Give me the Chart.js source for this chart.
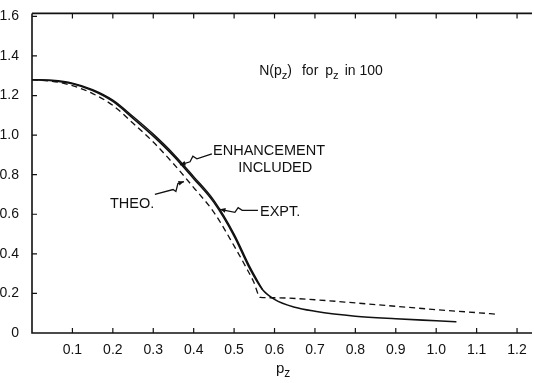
<!DOCTYPE html>
<html>
<head>
<meta charset="utf-8">
<script src="https://cdn.jsdelivr.net/npm/chart.js@4"></script>
<style>
  html, body { margin: 0; padding: 0; background: #fff; }
  #wrap { width: 534px; height: 383px; position: relative; }
</style>
</head>
<body>
<div id="wrap"><canvas id="chart"></canvas></div>
<script>
// N(pz) for pz in 100 -- experiment vs. theory

// experimental curve (solid)
const exptX = [0, 0.05, 0.1, 0.15, 0.2, 0.25, 0.3, 0.35, 0.4, 0.45, 0.5, 0.54, 0.57, 0.6, 0.65, 0.7, 0.8, 0.9, 1.0, 1.05];
const exptY = [1.28, 1.275, 1.26, 1.225, 1.17, 1.085, 0.995, 0.895, 0.78, 0.66, 0.49, 0.32, 0.22, 0.17, 0.13, 0.11, 0.085, 0.072, 0.062, 0.057];

// theory with enhancement included (solid, runs alongside the experiment)
const enhX = [0, 0.05, 0.1, 0.15, 0.2, 0.25, 0.3, 0.35, 0.4, 0.45, 0.5, 0.54, 0.57];
const enhY = [1.28, 1.277, 1.263, 1.23, 1.177, 1.094, 1.005, 0.905, 0.79, 0.67, 0.5, 0.33, 0.22];

// plain theory (dashed)
const theoX = [0, 0.05, 0.1, 0.15, 0.2, 0.25, 0.3, 0.35, 0.4, 0.45, 0.5, 0.53, 0.548, 0.565, 0.6, 0.7, 0.8, 0.9, 1.0, 1.1, 1.15];
const theoY = [1.28, 1.272, 1.25, 1.21, 1.15, 1.06, 0.965, 0.855, 0.735, 0.61, 0.44, 0.33, 0.26, 0.18, 0.178, 0.168, 0.152, 0.135, 0.118, 0.103, 0.095];

const xTickValues = [0.1, 0.2, 0.3, 0.4, 0.5, 0.6, 0.7, 0.8, 0.9, 1.0, 1.1, 1.2];
const xTickLabels = ['0.1', '0.2', '0.3', '0.4', '0.5', '0.6', '0.7', '0.8', '0.9', '1.0', '1.1', '1.2'];
const yTickValues = [0, 0.2, 0.4, 0.6, 0.8, 1.0, 1.2, 1.4, 1.6];
const yTickLabels = ['0', '0.2', '0.4', '0.6', '0.8', '1.0', '1.2', '1.4', '1.6'];

const INK = '#111';
const FONT = '"Liberation Sans", Arial, sans-serif';

function pts(xs, ys) {
  return xs.map((x, i) => ({ x: x, y: ys[i] }));
}

// frame, inward ticks, labels with arrows
const decorPlugin = {
  id: 'decor',
  afterDraw(chart) {
    const ctx = chart.ctx;
    const a = chart.chartArea;
    const xs = chart.scales.x;
    const ys = chart.scales.y;
    const P = (vx, vy) => [xs.getPixelForValue(vx), ys.getPixelForValue(vy)];

    ctx.save();
    ctx.strokeStyle = INK;
    ctx.fillStyle = INK;
    ctx.lineWidth = 1.6;
    ctx.beginPath();
    ctx.moveTo(a.left, a.top);
    ctx.lineTo(a.left, a.bottom);
    ctx.lineTo(a.right, a.bottom);
    ctx.moveTo(a.left, a.top);
    ctx.lineTo(a.right, a.top);
    ctx.stroke();

    ctx.lineWidth = 1.2;
    ctx.beginPath();
    xTickValues.forEach(v => {
      const px = xs.getPixelForValue(v);
      ctx.moveTo(px, a.bottom);
      ctx.lineTo(px, a.bottom - 5);
      ctx.moveTo(px, a.top);
      ctx.lineTo(px, a.top + 5);
    });
    yTickValues.forEach(v => {
      if (v === 0) return;
      const py = ys.getPixelForValue(v);
      ctx.moveTo(a.left, py);
      ctx.lineTo(a.left + 5, py);
    });
    ctx.stroke();

    // text with a subscript z
    function subText(parts, x, y, size) {
      let cx = x;
      parts.forEach(p => {
        const s = p.sub ? size * 0.8 : size;
        ctx.font = s + 'px ' + FONT;
        ctx.fillText(p.t, cx, p.sub ? y + 4 : y);
        cx += ctx.measureText(p.t).width + (p.gap || 0);
      });
    }
    ctx.textBaseline = 'alphabetic';
    ctx.textAlign = 'left';

    let [tx, ty] = P(0.562, 1.305);
    subText([{ t: 'N(p' }, { t: 'z', sub: true }, { t: ')', gap: 10 }, { t: 'for', gap: 7 },
             { t: 'p' }, { t: 'z', sub: true, gap: 6 }, { t: 'in 100' }], tx, ty, 14);

    // x axis title
    ctx.font = '15px ' + FONT;
    const mid = (a.left + a.right) / 2;
    subText([{ t: 'p' }, { t: 'z', sub: true }], mid - 6, 373, 15);

    ctx.font = '14.5px ' + FONT;
    [['ENHANCEMENT', 0.448, 0.90], ['INCLUDED', 0.510, 0.815],
     ['EXPT.', 0.564, 0.59], ['THEO.', 0.193, 0.63]].forEach(l => {
      const [lx, ly] = P(l[1], l[2]);
      ctx.fillText(l[0], lx, ly);
    });

    // zig-zag leader arrows, tip last
    const arrows = [
      [[0.445, 0.905], [0.408, 0.88], [0.398, 0.893], [0.391, 0.865], [0.366, 0.85]],
      [[0.559, 0.62], [0.520, 0.62], [0.510, 0.633], [0.502, 0.61], [0.465, 0.625]],
      [[0.304, 0.70], [0.349, 0.725], [0.356, 0.715], [0.361, 0.755], [0.376, 0.765]]
    ];
    ctx.lineWidth = 1.3;
    arrows.forEach(ar => {
      const p = ar.map(q => P(q[0], q[1]));
      ctx.beginPath();
      ctx.moveTo(p[0][0], p[0][1]);
      p.slice(1).forEach(q => ctx.lineTo(q[0], q[1]));
      ctx.stroke();
      const tip = p[p.length - 1], prev = p[p.length - 2];
      const ang = Math.atan2(tip[1] - prev[1], tip[0] - prev[0]);
      ctx.beginPath();
      ctx.moveTo(tip[0], tip[1]);
      ctx.lineTo(tip[0] - 6 * Math.cos(ang - 0.4), tip[1] - 6 * Math.sin(ang - 0.4));
      ctx.lineTo(tip[0] - 6 * Math.cos(ang + 0.4), tip[1] - 6 * Math.sin(ang + 0.4));
      ctx.closePath();
      ctx.fill();
    });
    ctx.restore();
  }
};

new Chart(document.getElementById('chart'), {
  type: 'line',
  data: {
    datasets: [
      {
        label: 'EXPT.',
        data: pts(exptX, exptY),
        borderColor: INK,
        borderWidth: 1.6,
        pointRadius: 0,
        cubicInterpolationMode: 'monotone'
      },
      {
        label: 'ENHANCEMENT INCLUDED',
        data: pts(enhX, enhY),
        borderColor: INK,
        borderWidth: 1.4,
        pointRadius: 0,
        cubicInterpolationMode: 'monotone'
      },
      {
        label: 'THEO.',
        data: pts(theoX, theoY),
        borderColor: INK,
        borderWidth: 1.3,
        borderDash: [6, 4],
        pointRadius: 0,
        cubicInterpolationMode: 'monotone'
      }
    ]
  },
  options: {
    responsive: true,
    maintainAspectRatio: false,
    animation: false,
    layout: { padding: { top: 10, right: 2, left: 0, bottom: 0 } },
    plugins: {
      legend: { display: false },
      tooltip: { enabled: false }
    },
    scales: {
      x: {
        type: 'linear',
        min: 0,
        max: 1.237,
        grid: { display: false },
        border: { display: false },
        afterBuildTicks: scale => { scale.ticks = xTickValues.map(v => ({ value: v })); },
        afterFit: scale => { scale.height = 50; },
        ticks: {
          padding: 1,
          color: INK,
          font: { family: FONT, size: 14 },
          maxRotation: 0,
          autoSkip: false,
          callback: v => xTickLabels[xTickValues.findIndex(t => Math.abs(t - v) < 1e-6)] || ''
        }
      },
      y: {
        type: 'linear',
        min: 0,
        max: 1.615,
        grid: { display: false },
        border: { display: false },
        afterBuildTicks: scale => { scale.ticks = yTickValues.map(v => ({ value: v })); },
        afterFit: scale => { scale.width = 32; },
        ticks: {
          padding: 5,
          color: INK,
          font: { family: FONT, size: 14 },
          autoSkip: false,
          callback: v => yTickLabels[yTickValues.findIndex(t => Math.abs(t - v) < 1e-6)] || ''
        }
      }
    }
  },
  plugins: [decorPlugin]
});
</script>
</body>
</html>
